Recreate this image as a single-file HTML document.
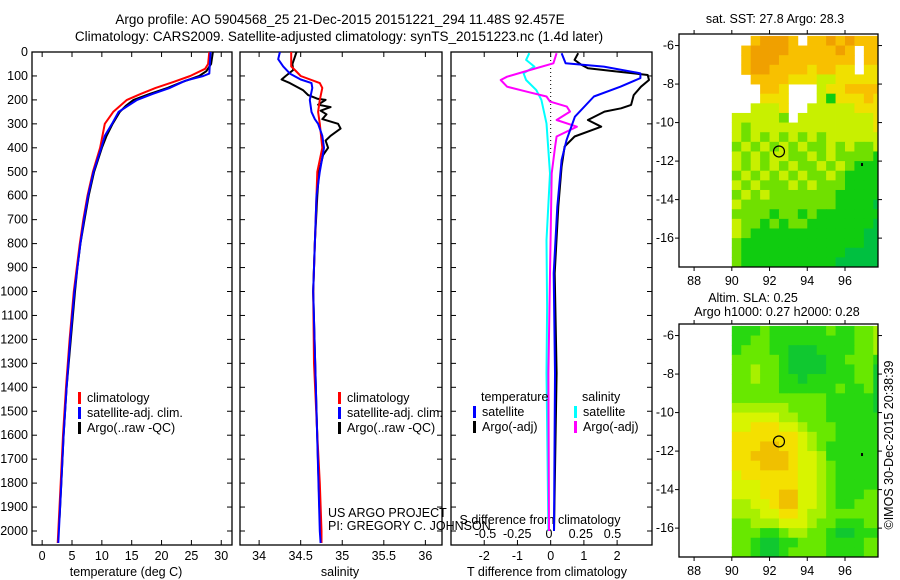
<!DOCTYPE html>
<html><head><meta charset="utf-8"><style>
html,body{margin:0;padding:0;background:#fff;}
svg{display:block;font-family:"Liberation Sans",sans-serif;}
text{font-size:12.5px;fill:#000;}
</style></head><body>
<svg id="c" width="900" height="580" viewBox="0 0 900 580">
<text x="340" y="24" text-anchor="middle" style="font-size:13.5px">Argo profile: AO 5904568_25 21-Dec-2015 20151221_294 11.48S 92.457E</text>
<text x="339" y="41" text-anchor="middle" style="font-size:13.5px">Climatology: CARS2009. Satellite-adjusted climatology: synTS_20151223.nc (1.4d later)</text>
<text x="775" y="23" text-anchor="middle">sat. SST: 27.8 Argo: 28.3</text>
<text x="753" y="302" text-anchor="middle">Altim. SLA: 0.25</text>
<text x="777" y="316" text-anchor="middle">Argo h1000: 0.27 h2000: 0.28</text>
<text transform="translate(893,445) rotate(-90)" text-anchor="middle">©IMOS 30-Dec-2015 20:38:39</text>
<text x="126" y="576" text-anchor="middle">temperature (deg C)</text>
<text x="340" y="576" text-anchor="middle">salinity</text>
<text x="547" y="576" text-anchor="middle">T difference from climatology</text>
<text x="540" y="524" text-anchor="middle">S difference from climatology</text>
<text x="328" y="517">US ARGO PROJECT</text>
<text x="328" y="530">PI: GREGORY C. JOHNSON</text>
<g id="plots"></g>
</svg>
<script>
// ---------- data ----------
const depthTicks=[0,100,200,300,400,500,600,700,800,900,1000,1100,1200,1300,1400,1500,1600,1700,1800,1900,2000];
const tTicks=[0,5,10,15,20,25,30];
const sTicks=[34,34.5,35,35.5,36];
const sTickLabels=["34","34.5","35","35.5","36"];
const dtTicks=[-2,-1,0,1,2];
const dsTicks=[-0.5,-0.25,0,0.25,0.5];
const dsTickLabels=["-0.5","-0.25","0","0.25","0.5"];
const lonTicks=[88,90,92,94,96];
const latTicks=[-6,-8,-10,-12,-14,-16];

const tClimDepth=[0,50,70,100,125,150,175,200,250,300,400,500,600,700,800,900,1000,1200,1400,1600,1800,2000,2050];
const tClimVal=[28.0,27.8,27.3,24.8,22,19,16.5,14.2,11.9,10.5,9.7,8.5,7.6,6.9,6.3,5.8,5.3,4.6,4.0,3.5,3.1,2.7,2.6];
const tSatDepth=[0,90,100,120,150,175,200,250,300,350,400,500,600,700,800,900,1000,1200,1400,1600,1800,2000,2050];
const tSatVal=[28.2,28.0,27.0,24,21.4,18.5,15.9,12.8,11.7,10.5,9.9,8.6,7.7,7.0,6.4,5.9,5.4,4.7,4.1,3.6,3.2,2.8,2.7];
const tArgoDepth=[0,50,80,100,125,150,175,200,225,250,300,350,400,500,600,700,800,900,1000,1200,1400,1600,1800,1950];
const tArgoVal=[28.6,28.3,27.5,26.3,23.5,21,18,15.3,14,13,11.8,10.8,10,8.7,7.8,7.1,6.4,5.9,5.5,4.8,4.1,3.6,3.2,2.9];

const sClimDepth=[0,60,75,100,130,150,200,250,300,400,500,600,1000,1300,1600,1800,2000,2050];
const sClimVal=[34.386,34.386,34.43,34.5,34.73,34.76,34.73,34.71,34.73,34.76,34.70,34.69,34.65,34.66,34.70,34.73,34.75,34.75];
const sSatDepth=[0,30,60,90,115,130,150,200,250,280,300,350,400,500,600,1000,1500,2000,2050];
const sSatVal=[34.25,34.23,34.29,34.37,34.5,34.63,34.64,34.61,34.63,34.67,34.71,34.76,34.78,34.73,34.69,34.65,34.69,34.73,34.74];
const sArgoDepth=[0,20,50,75,100,115,130,160,180,195,200,220,230,245,260,280,300,320,350,370,400,430,500,600,800,1000,1500,1950];
const sArgoVal=[34.45,34.43,34.4,34.41,34.32,34.27,34.37,34.53,34.59,34.70,34.80,34.71,34.86,34.74,34.81,34.76,34.95,34.98,34.86,34.8,34.83,34.77,34.72,34.7,34.67,34.65,34.69,34.73];

const dtSatDepth=[5,47,61,89,109,145,186,270,367,451,646,924,1341,2000];
const dtSatVal=[0.33,0.45,1.6,2.7,2.7,2.1,1.3,0.73,0.48,0.33,0.2,0.09,0.13,0.1];
const dtArgoDepth=[5,33,54,68,82,96,117,145,180,221,235,249,284,312,353,395,479,646,924,1341,2000];
const dtArgoVal=[0.83,0.72,0.93,1.12,2.02,2.92,2.96,2.72,2.5,2.42,2.12,1.62,1.12,1.52,0.72,0.42,0.33,0.23,0.12,0.18,0.1];
const dsArgoDepth=[5,47,75,103,117,145,166,186,207,228,249,284,312,353,395,507,924,1341,2000];
const dsArgoVal=[0.06,0.035,-0.15,-0.33,-0.38,-0.33,-0.17,-0.02,0.008,0.14,0.165,0.06,0.22,0.06,0.048,0.021,0.008,-0.005,0];
const dsSatDepth=[5,33,61,89,117,159,200,298,507,785,1063,1341,2000];
const dsSatVal=[-0.155,-0.18,-0.115,-0.2,-0.18,-0.1,-0.06,-0.02,0.008,-0.02,-0.015,-0.02,-0.005];

// map grids: rows lat -5.5 downward by 0.5, columns lon 90 eastward by 0.5; 0 = no data
const sstRows=["0021112022121222","0211112222212022","0211122222222022","0211222232233033","0022223334433333","0002230004332222","0003330004633323","0044430044444333","4444450444444443","4544444444444443","4545454545444444","5454545455454554","4545445545455556","4545454554545666","5454545455456666","4545554545556666","5454555555566666","4555555555566667","5555655656666666","4556565566666667","4566666666666677","5666666666666677","5666666666667777","5666666666677777"];
const slaRows=["6665666666566554","6655666666666554","6555667776666554","5555567777665556","5545567777666557","5545566766666557","5555566666656657","5555555555666667","4444445555666667","3333344555666666","3322233455566666","2222222345566666","2221122345666666","2211112334666666","2221112334566666","3222222334566666","3332222334566666","3332211334566655","4433211334566555","4443322344555555","5544433345566655","5556654455677666","5567766555666655","5567765555666655"];
const sstColors=["#ffffff","#f0a000","#f8c000","#f0e000","#c8f000","#70e000","#10cc10","#00c040"];
const slaColors=["#ffffff","#f0c000","#f4e000","#d8f400","#a8f000","#68e800","#28d810","#10c830"];
const floatLon=92.5, floatLat=-11.5;

// ---------- drawing ----------
const NS="http://www.w3.org/2000/svg";
const root=document.getElementById('plots');
function mk(tag,attrs,parent){const e=document.createElementNS(NS,tag);for(const k in attrs)e.setAttribute(k,attrs[k]);(parent||root).appendChild(e);return e;}
const Y0=52, YS=0.2395;
function yD(d){return Y0+d*YS;}
const yBottom=545;

function panel(name,x0,x1,xmin,xmax){
  const sx=v=>x0+(v-xmin)/(xmax-xmin)*(x1-x0);
  const g=mk('g',{});
  
  
  const r=mk('rect',{x:x0,y:Y0,width:x1-x0,height:yBottom-Y0,fill:'none',stroke:'#000','stroke-width':1.3},g);
  
  
  depthTicks.forEach(d=>{mk('line',{x1:x0,x2:x0+5,y1:yD(d),y2:yD(d),stroke:'#000'},g);mk('line',{x1:x1,x2:x1-5,y1:yD(d),y2:yD(d),stroke:'#000'},g);});
  return {g,sx};
}
function series(p,name,depths,vals,color,w,sxf){
  let d='';
  depths.forEach((dp,i)=>{d+=(i?'L':'M')+sxf(vals[i]).toFixed(1)+','+yD(dp).toFixed(1);});
  const path=mk('path',{d:d,fill:'none',stroke:color,'stroke-width':w,'stroke-linejoin':'round'},p.g);
  
  
}
function xTicks(p,ticks,labels,ly){
  ticks.forEach((t,i)=>{const x=p.sx(t);
    mk('line',{x1:x,x2:x,y1:yBottom,y2:yBottom-5,stroke:'#000'},p.g);
    mk('line',{x1:x,x2:x,y1:Y0,y2:Y0+5,stroke:'#000'},p.g);
    const tx=mk('text',{x:x,y:ly,'text-anchor':'middle'},p.g);tx.textContent=labels[i];
    
    });
}
function legend(p,x,y,items){
  items.forEach((it,i)=>{
    mk('rect',{x:x,y:y+i*15-10,width:3,height:12,fill:it[1]},p.g);
    const t=mk('text',{x:x+9,y:y+i*15},p.g);t.textContent=it[0];
    
    
  });
}
depthTicks.forEach(d=>{const t=mk('text',{x:28,y:yD(d)+4,'text-anchor':'end'});t.textContent=d;
  
  });

const p1=panel('temperature-panel',32,232,-1.7,31.8);
xTicks(p1,tTicks,tTicks.map(String),560);
series(p1,'temp-argo-line',tArgoDepth,tArgoVal,'#000',2,p1.sx);
series(p1,'temp-clim-line',tClimDepth,tClimVal,'#f00',2,p1.sx);
series(p1,'temp-sat-line',tSatDepth,tSatVal,'#00f',2,p1.sx);
legend(p1,78,402,[['climatology','#f00'],['satellite-adj. clim.','#00f'],['Argo(..raw -QC)','#000']]);

const p2=panel('salinity-panel',240,442,33.77,36.2);
xTicks(p2,sTicks,sTickLabels,560);
series(p2,'sal-argo-line',sArgoDepth,sArgoVal,'#000',2,p2.sx);
series(p2,'sal-clim-line',sClimDepth,sClimVal,'#f00',2,p2.sx);
series(p2,'sal-sat-line',sSatDepth,sSatVal,'#00f',2,p2.sx);
legend(p2,338,402,[['climatology','#f00'],['satellite-adj. clim.','#00f'],['Argo(..raw -QC)','#000']]);

const p3=panel('difference-panel',451,652,-3.0,3.05);
const sxS=v=>549+v*127;
xTicks(p3,dtTicks,dtTicks.map(String),560);
dsTicks.forEach((t,i)=>{const tx=mk('text',{x:sxS(t),y:538,'text-anchor':'middle'},p3.g);tx.textContent=dsTickLabels[i];
  
  });
const zl=mk('line',{x1:p3.sx(0),x2:p3.sx(0),y1:Y0,y2:yD(430),stroke:'#000','stroke-dasharray':'1,3'},p3.g);


series(p3,'sdiff-sat-line',dsSatDepth,dsSatVal,'#0ff',2,sxS);
series(p3,'sdiff-argo-line',dsArgoDepth,dsArgoVal,'#f0f',2,sxS);
series(p3,'tdiff-argo-line',dtArgoDepth,dtArgoVal,'#000',2,p3.sx);
series(p3,'tdiff-sat-line',dtSatDepth,dtSatVal,'#00f',2,p3.sx);
const th=mk('text',{x:481,y:401},p3.g);th.textContent='temperature';


const sh=mk('text',{x:582,y:401},p3.g);sh.textContent='salinity';


legend(p3,473,416,[['satellite','#00f'],['Argo(-adj)','#000']]);
legend(p3,574,416,[['satellite','#0ff'],['Argo(-adj)','#f0f']]);

function map(name,top,rows,colors){
  const L=679,R=878,bot=top+233, lonMin=87.2, lonMax=97.75, latTop=-5.4, latBot=-17.5;
  const mx=v=>L+(v-lonMin)/(lonMax-lonMin)*(R-L);
  const my=v=>top+(latTop-v)/(latTop-latBot)*(bot-top);
  const g=mk('g',{});
  
  
  rows.forEach((row,ri)=>{
    const la=-5.5-ri*0.5;
    for(let ci=0;ci<row.length;ci++){
      const lv=+row[ci]; if(!lv) continue;
      const lo=90+ci*0.5;
      const x=mx(lo), xe=Math.min(mx(lo+0.5),R);
      const y=Math.max(my(la),top), ye=my(la-0.5);
      mk('rect',{x:x,y:y,width:xe-x+0.4,height:ye-y+0.4,fill:colors[lv]},g);
    }
  });
  const c=mk('circle',{cx:mx(floatLon),cy:my(floatLat),r:5.5,fill:'none',stroke:'#000','stroke-width':1.2},g);
  
  
  mk('rect',{x:mx(96.85),y:my(-12.1),width:2,height:3,fill:'#000'},g);
  const fr=mk('rect',{x:L,y:top,width:R-L,height:bot-top,fill:'none',stroke:'#000','stroke-width':1.3},g);
  
  
  lonTicks.forEach(v=>{const x=mx(v);mk('line',{x1:x,x2:x,y1:top,y2:top-4,stroke:'#000'},g);mk('line',{x1:x,x2:x,y1:bot,y2:bot+4,stroke:'#000'},g);
    const t=mk('text',{x:x,y:bot+18,'text-anchor':'middle'},g);t.textContent=v;
    
    });
  latTicks.forEach(v=>{const y=my(v);mk('line',{x1:L,x2:L-4,y1:y,y2:y,stroke:'#000'},g);mk('line',{x1:R,x2:R+4,y1:y,y2:y,stroke:'#000'},g);
    const t=mk('text',{x:L-5,y:y+4,'text-anchor':'end'},g);t.textContent=v;
    
    });
}
map('sst-map',34,sstRows,sstColors);
map('sla-map',324,slaRows,slaColors);
</script>
</body></html>
